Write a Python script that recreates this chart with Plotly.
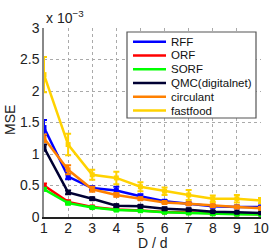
import plotly.graph_objects as go

x = list(range(1, 11))
series_names = ["RFF", "ORF", "SORF", "QMC(digitalnet)", "circulant", "fastfood"]
colors = ["#0000FF", "#FF0000", "#00FF00", "#000033", "#FF8000", "#FFD200"]

# values in units of 1e-3
rff = [1.42, 0.64, 0.46, 0.42, 0.33, 0.25, 0.21, 0.17, 0.16, 0.16]
orf = [0.50, 0.24, 0.16, 0.12, 0.105, 0.08, 0.07, 0.055, 0.05, 0.045]
sorf = [0.44, 0.22, 0.15, 0.11, 0.10, 0.075, 0.065, 0.05, 0.045, 0.04]
qmc = [1.10, 0.39, 0.29, 0.18, 0.17, 0.13, 0.115, 0.085, 0.075, 0.065]
circulant = [1.25, 0.75, 0.44, 0.35, 0.29, 0.23, 0.21, 0.18, 0.16, 0.14]
fastfood = [2.26, 1.15, 0.67, 0.62, 0.48, 0.41, 0.35, 0.29, 0.29, 0.26]

rff_err = [0.12, 0.04, 0.03, 0.06, 0.03, 0.02, 0.02, 0.02, 0.02, 0.02]
orf_err = [0.03, 0.02, 0.01, 0.01, 0.01, 0.01, 0.01, 0.01, 0.01, 0.01]
sorf_err = [0.02, 0.02, 0.01, 0.01, 0.01, 0.01, 0.01, 0.01, 0.01, 0.01]
qmc_err = [0.05, 0.03, 0.02, 0.02, 0.02, 0.02, 0.02, 0.01, 0.01, 0.01]
circ_err = [0.06, 0.07, 0.04, 0.03, 0.02, 0.02, 0.02, 0.02, 0.02, 0.02]
ff_err = [0.28, 0.17, 0.08, 0.10, 0.07, 0.06, 0.08, 0.05, 0.06, 0.04]

ys = [rff, orf, sorf, qmc, circulant, fastfood]
errs = [rff_err, orf_err, sorf_err, qmc_err, circ_err, ff_err]

yticks = [0, 0.5, 1, 1.5, 2, 2.5, 3]
ytick_text = ["0", "0.5", "1", "1.5", "2", "2.5", "3"]

fig = go.Figure()
for name, c, y, e in zip(series_names, colors, ys, errs):
    fig.add_trace(go.Scatter(
        x=x, y=y, name=name, mode="lines+markers", showlegend=False,
        line=dict(color=c, width=2.5),
        marker=dict(color=c, size=5, symbol="square"),
        error_y=dict(type="data", array=e, color=c, thickness=2, width=3),
    ))

# custom legend drawn in paper coordinates (compact, like the reference)
W, H = 217.0, 189.0  # plot area size in px
def px(xp):
    return (xp - 44) / W
def py(yp):
    return (217 - yp) / H

shapes = [dict(type="rect", xref="paper", yref="paper",
               x0=px(127), x1=px(256), y0=py(118), y1=py(32),
               line=dict(color="#555", width=1.2), fillcolor="white", layer="above")]
annotations = []
row_y = [41.7, 55.5, 69.3, 83.0, 96.8, 110.6]
for name, c, ry in zip(series_names, colors, row_y):
    shapes.append(dict(type="line", xref="paper", yref="paper",
                       x0=px(133), x1=px(166), y0=py(ry), y1=py(ry),
                       line=dict(color=c, width=2.5), layer="above"))
    annotations.append(dict(x=px(169), y=py(ry), xref="paper", yref="paper",
                            xanchor="left", yanchor="middle", showarrow=False,
                            text=name, font=dict(size=11.5, color="#111")))

annotations.append(dict(x=0, y=1.0, xref="paper", yref="paper",
                        xanchor="left", yanchor="bottom", showarrow=False,
                        text="x 10<sup>−3</sup>", font=dict(size=14, color="#222"),
                        yshift=0))
# axis titles
annotations.append(dict(x=0.5, y=py(243), xref="paper", yref="paper",
                        xanchor="center", yanchor="middle", showarrow=False,
                        text="D / d", font=dict(size=14, color="#222")))
annotations.append(dict(x=px(10), y=py(120), xref="paper", yref="paper",
                        xanchor="center", yanchor="middle", showarrow=False,
                        textangle=-90,
                        text="MSE", font=dict(size=14, color="#222")))

fnt = "Liberation Sans, Arial, sans-serif"
fig.update_layout(
    width=274, height=252,
    margin=dict(l=44, r=13, t=28, b=35),
    paper_bgcolor="white", plot_bgcolor="white",
    font=dict(family=fnt, size=14, color="#222"),
    showlegend=False,
    xaxis=dict(range=[1, 10], tickvals=x, ticks="", showgrid=True,
               gridcolor="#aaa", griddash="dot", gridwidth=1,
               showline=True, linecolor="#222", linewidth=1.5, mirror=False,
               zeroline=False, automargin=False, ticklabelstandoff=-3,
               tickfont=dict(size=14)),
    yaxis=dict(range=[0, 3], tickvals=yticks, ticktext=ytick_text, ticks="",
               showgrid=True, gridcolor="#aaa", griddash="dot", gridwidth=1,
               showline=True, linecolor="#888", linewidth=1.5,
               zeroline=False, automargin=False,
               tickfont=dict(size=14)),
    shapes=shapes,
    annotations=annotations,
)
fig.write_html("out.html", config={"displayModeBar": False},
               post_script="document.body.style.margin='0';document.body.style.padding='0';document.body.style.overflow='hidden';")
